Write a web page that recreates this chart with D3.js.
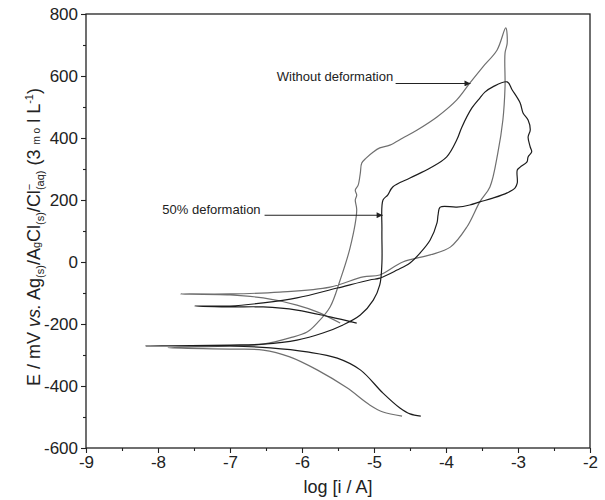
<!DOCTYPE html>
<html>
<head>
<meta charset="utf-8">
<script src="https://cdn.jsdelivr.net/npm/d3@7"></script>
<style>
  html, body { margin: 0; padding: 0; background: #fff; }
  svg { display: block; font-family: "Liberation Sans", Arial, sans-serif; }
</style>
</head>
<body>
<svg id="chart" width="605" height="500"></svg>
<script>
// ---------- data ----------
const xTickValues = [-9, -8, -7, -6, -5, -4, -3, -2];
const xTickLabels = ["-9", "-8", "-7", "-6", "-5", "-4", "-3", "-2"];
const yTickValues = [-600, -400, -200, 0, 200, 400, 600, 800];
const yTickLabels = ["-600", "-400", "-200", "0", "200", "400", "600", "800"];
const xMinorTicks = [-8.5, -7.5, -6.5, -5.5, -4.5, -3.5, -2.5];
const yMinorTicks = [-500, -300, -100, 100, 300, 500, 700];

const seriesNames = ["Without deformation", "50% deformation"];

// Without deformation (grey): cathodic -> Ecorr -> anodic -> reverse -> tail
const withoutLogI = [-4.61, -4.875, -5.06, -5.375, -5.79, -6.17, -6.54, -7.0, -7.86,
  -7.0, -6.54, -6.17, -5.93, -5.79, -5.61, -5.47, -5.33, -5.24, -5.26, -5.24, -5.26, -5.22,
  -5.19, -5.17, -5.11, -5.01, -4.92, -4.78, -4.60, -4.40, -4.125, -3.85, -3.67, -3.49, -3.29, -3.17,
  -3.15, -3.18, -3.18, -3.21, -3.28, -3.39, -3.53, -3.71, -3.94, -4.22, -4.60, -4.92, -5.15, -5.61, -6.31, -7.0, -7.69,
  -7.0, -6.54, -6.07, -5.79, -5.47];
const withoutE = [-497, -484, -461, -406, -348, -306, -284, -281, -277,
  -271, -265, -245, -226, -197, -145, -58, 48, 168, 200, 216, 232, 248,
  287, 319, 335, 355, 368, 377, 400, 426, 468, 523, 577, 629, 684, 755,
  706, 674, 565, 458, 352, 242, 194, 113, 48, 23, 0, -42, -48, -81, -97, -103, -103,
  -106, -116, -139, -161, -197];

// 50% deformation (black)
const deform50LogI = [-4.35, -4.50, -4.64, -4.875, -5.19, -5.51, -5.93, -6.44, -7.0, -8.17,
  -7.0, -6.54, -6.07, -5.71, -5.43, -5.19, -5.01, -4.92, -4.89, -4.89, -4.875, -4.81, -4.74,
  -4.50, -4.22, -3.99, -3.85, -3.78, -3.64, -3.53, -3.46, -3.35, -3.15,
  -3.08, -2.97, -2.93, -2.86, -2.83, -2.86, -2.83, -2.81, -2.86, -2.875, -2.97, -3.01, -3.01, -3.04,
  -3.15, -3.35, -3.53, -3.67, -3.85, -4.08, -4.11, -4.125, -4.22, -4.36, -4.50, -4.68, -4.92, -5.06,
  -5.51, -6.07, -6.54, -7.0, -7.49,
  -7.0, -6.54, -6.07, -5.61, -5.24];
const deform50E = [-497, -490, -471, -423, -348, -310, -290, -277, -271, -271,
  -268, -265, -252, -229, -203, -171, -123, -74, -3, 103, 200, 216, 242,
  271, 303, 339, 394, 435, 497, 529, 548, 565, 581,
  555, 513, 481, 458, 426, 403, 371, 355, 339, 323, 306, 297, 255, 239,
  223, 206, 194, 184, 177, 177, 152, 126, 71, 29, -3, -26, -52, -58,
  -84, -116, -132, -142, -142,
  -145, -145, -155, -177, -197];

// annotations (data coordinates)
const annoText = ["Without deformation", "50% deformation"];
const annoTextX = [-6.35, -7.94];
const annoTextY = [585, 155];
const annoArrowX0 = [-4.70, -6.52];
const annoArrowX1 = [-3.66, -4.88];
const annoArrowY = [576, 151];

// ---------- chart ----------
const svg = d3.select("#chart");
const mLeft = 86, mRight = 590, mTop = 14, mBottom = 448;
const x = d3.scaleLinear().domain([-9, -2]).range([mLeft, mRight]);
const y = d3.scaleLinear().domain([-600, 800]).range([mBottom, mTop]);
const axisColor = "#222";

// curves
const line = d3.line().x(d => x(d[0])).y(d => y(d[1])).curve(d3.curveCatmullRom.alpha(0.5));
const curves = [
  { lx: withoutLogI, ey: withoutE, color: "#6f6f6f" },
  { lx: deform50LogI, ey: deform50E, color: "#1c1c1c" }
];
curves.forEach(c => {
  const pts = c.lx.map((v, i) => [v, c.ey[i]]);
  svg.append("path").datum(pts).attr("d", line)
    .attr("fill", "none").attr("stroke", c.color).attr("stroke-width", 1.2)
    .attr("stroke-linejoin", "round");
});

// frame
svg.append("rect").attr("x", mLeft).attr("y", mTop)
  .attr("width", mRight - mLeft).attr("height", mBottom - mTop)
  .attr("fill", "none").attr("stroke", axisColor).attr("stroke-width", 1.3);

// axes
const xAxis = d3.axisBottom(x).tickValues(xTickValues)
  .tickFormat((d, i) => xTickLabels[i]).tickSizeOuter(0).tickSizeInner(5).tickPadding(3);
const gx = svg.append("g").attr("transform", `translate(0,${mBottom})`).call(xAxis);
const xMinor = d3.axisBottom(x).tickValues(xMinorTicks).tickFormat("").tickSizeOuter(0).tickSizeInner(3);
const gxm = svg.append("g").attr("transform", `translate(0,${mBottom})`).call(xMinor);

const yAxis = d3.axisLeft(y).tickValues(yTickValues)
  .tickFormat((d, i) => yTickLabels[i]).tickSizeOuter(0).tickSizeInner(5).tickPadding(3);
const gy = svg.append("g").attr("transform", `translate(${mLeft},0)`).call(yAxis);
const yMinor = d3.axisLeft(y).tickValues(yMinorTicks).tickFormat("").tickSizeOuter(0).tickSizeInner(3);
const gym = svg.append("g").attr("transform", `translate(${mLeft},0)`).call(yMinor);

[gx, gxm, gy, gym].forEach(g => {
  g.select(".domain").remove();
  g.selectAll("line").attr("stroke", axisColor).attr("stroke-width", 1.1);
  g.selectAll("text").attr("fill", "#222").attr("font-size", 17)
    .attr("font-family", "'Liberation Sans', Arial, sans-serif");
});

// x axis title
svg.append("text").attr("x", (mLeft + mRight) / 2).attr("y", 493)
  .attr("text-anchor", "middle").attr("font-size", 18).attr("fill", "#222")
  .text("log [i / A]");

// y axis title with sub/superscripts
const yt = svg.append("text")
  .attr("transform", `translate(40,237) rotate(-90)`)
  .attr("text-anchor", "middle").attr("font-size", 18).attr("fill", "#222");
const sub = 11, small = 11;
yt.append("tspan").text("E / mV ");
yt.append("tspan").attr("font-style", "italic").text("vs.");
yt.append("tspan").text(" Ag");
yt.append("tspan").attr("font-size", sub).attr("dy", 4).text("(s)");
yt.append("tspan").attr("dy", -4).text("/A");
yt.append("tspan").attr("font-size", small).text("g");
yt.append("tspan").text("Cl");
yt.append("tspan").attr("font-size", sub).attr("dy", 4).text("(s)");
yt.append("tspan").attr("dy", -4).text("/Cl");
yt.append("tspan").attr("font-size", sub).attr("dy", -7).text("\u2212");
yt.append("tspan").attr("font-size", sub).attr("dx", -6.4).attr("dy", 11).text("(aq)");
yt.append("tspan").attr("dy", -4).text(" (3 ");
yt.append("tspan").attr("font-size", 10).text("m o");
yt.append("tspan").text(" l L");
yt.append("tspan").attr("font-size", sub).attr("dy", -7).text("-1");
yt.append("tspan").attr("dy", 7).text(")");

// annotations
const defs = svg.append("defs");
defs.append("marker").attr("id", "arrow").attr("viewBox", "0 0 10 10")
  .attr("refX", 10).attr("refY", 5).attr("markerWidth", 8).attr("markerHeight", 6)
  .attr("markerUnits", "userSpaceOnUse").attr("orient", "auto")
  .append("path").attr("d", "M0,0 L10,5 L0,10 z").attr("fill", "#222");

annoText.forEach((t, i) => {
  svg.append("text").attr("x", x(annoTextX[i])).attr("y", y(annoTextY[i]))
    .attr("font-size", 13).attr("fill", "#222").text(t);
  svg.append("line")
    .attr("x1", x(annoArrowX0[i])).attr("x2", x(annoArrowX1[i]))
    .attr("y1", y(annoArrowY[i])).attr("y2", y(annoArrowY[i]))
    .attr("stroke", "#222").attr("stroke-width", 1.1)
    .attr("marker-end", "url(#arrow)");
});
</script>
</body>
</html>
